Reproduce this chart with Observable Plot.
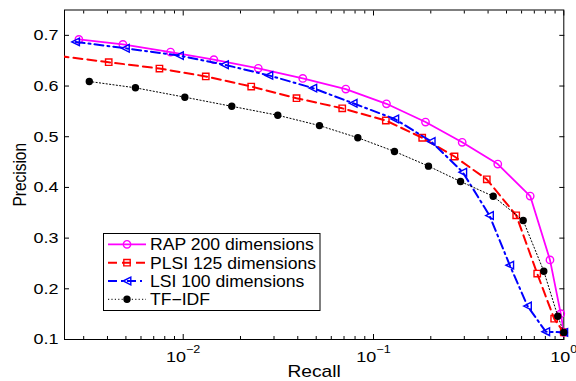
<!DOCTYPE html>
<html><head><meta charset="utf-8">
<script src="https://cdn.jsdelivr.net/npm/d3@7"></script>
<script src="https://cdn.jsdelivr.net/npm/@observablehq/plot@0.6"></script>
<style>
html,body{margin:0;padding:0;background:#fff;}
</style></head><body><div id="chart"></div>
<script>
// ---- data ----
const seriesNames = ["RAP 200 dimensions", "PLSI 125 dimensions", "LSI 100 dimensions", "TF\u2212IDF"];
const rapRecall = [0.00283,0.00482,0.00858,0.01449,0.0248,0.0425,0.0715,0.117,0.1876,0.2924,0.4498,0.666,0.846,0.964,1.0];
const rapPrecision = [0.692,0.682,0.667,0.652,0.635,0.615,0.594,0.565,0.529,0.489,0.446,0.383,0.257,0.151,0.114];
const plsiRecall = [0.0016,0.00406,0.0075,0.01314,0.02277,0.0394,0.0685,0.1161,0.1803,0.2665,0.3938,0.5622,0.7249,0.890,1.0];
const plsiPrecision = [0.666,0.647,0.6345,0.619,0.599,0.576,0.556,0.532,0.498,0.461,0.416,0.345,0.230,0.141,0.114];
const lsiRecall = [0.00272,0.00497,0.00956,0.01648,0.0282,0.048,0.0782,0.1294,0.201,0.2946,0.407,0.520,0.6444,0.804,1.0];
const lsiPrecision = [0.687,0.6745,0.660,0.642,0.621,0.596,0.566,0.535,0.4905,0.430,0.3446,0.2466,0.166,0.1154,0.114];
const tfidfRecall = [0.00321,0.00561,0.0102,0.018,0.0314,0.052,0.0827,0.1289,0.1945,0.2866,0.4256,0.6117,0.785,0.930,1.0];
const tfidfPrecision = [0.609,0.5965,0.578,0.560,0.5424,0.522,0.498,0.471,0.442,0.4116,0.3826,0.3347,0.2347,0.146,0.114];

const yTicks = [0.1,0.2,0.3,0.4,0.5,0.6,0.7];
const xMajor = [0.01,0.1,1];
const xMinor = [0.003,0.004,0.005,0.006,0.007,0.008,0.009,
                0.02,0.03,0.04,0.05,0.06,0.07,0.08,0.09,
                0.2,0.3,0.4,0.5,0.6,0.7,0.8,0.9];
const xLabel = "Recall";
const yLabel = "Precision";

// ---- styling ----
const triLeft = {draw(ctx, size) { const r = Math.sqrt(size / Math.PI); ctx.moveTo(-r, 0); ctx.lineTo(r, -r); ctx.lineTo(r, r); ctx.closePath(); }};
const styles = [
  {color: "#ff00ff", dash: null, width: 1.8, symbol: "circle", r: 3.7, fill: "none"},
  {color: "#ff0000", dash: "9,5", width: 2, symbol: "square", r: 3.6, fill: "none"},
  {color: "#0000ff", dash: "9,4,2,4", width: 2, symbol: triLeft, r: 3.8, fill: "none"},
  {color: "#000000", dash: "1.2,2.2", width: 1, symbol: "circle", r: 3, fill: "#000"}
];
const recalls = [rapRecall, plsiRecall, lsiRecall, tfidfRecall];
const precisions = [rapPrecision, plsiPrecision, lsiPrecision, tfidfPrecision];
const series = recalls.map((rs, k) => rs.map((r, i) => ({recall: r, precision: precisions[k][i]})));

const xDomain = [0.002378, 1];
const marks = [
  Plot.frame({stroke: "#000", strokeWidth: 1}),
  Plot.axisY(yTicks, {anchor: "left", tickSize: -5, tickPadding: 11, tickFormat: d3.format(".1f"), label: null}),
  Plot.axisY(yTicks, {anchor: "right", tickSize: -5, tickFormat: () => "", label: null}),
  Plot.axisX(xMajor, {anchor: "bottom", tickSize: -5, tickPadding: 17, tickFormat: d => "10^" + Math.round(Math.log10(d)), label: null}),
  Plot.axisX(xMinor, {anchor: "bottom", tickSize: -3, tickFormat: () => "", label: null}),
  Plot.axisX(xMajor, {anchor: "top", tickSize: -5, tickFormat: () => "", label: null}),
  Plot.axisX(xMinor, {anchor: "top", tickSize: -3, tickFormat: () => "", label: null}),
  Plot.text([xLabel], {text: d => d, frameAnchor: "bottom", dy: 37, lineAnchor: "bottom", textAnchor: "middle", fontSize: 16}),
  Plot.text([yLabel], {text: d => d, frameAnchor: "left", dx: -38.5, rotate: -90, lineAnchor: "bottom", textAnchor: "middle", fontSize: 15.5})
];
series.forEach((data, k) => {
  const s = styles[k];
  marks.push(Plot.line(data, {x: "recall", y: "precision", stroke: s.color, strokeWidth: s.width, strokeDasharray: s.dash, clip: true, curve: "linear"}));
  marks.push(Plot.dot(data, {x: "recall", y: "precision", filter: d => d.recall >= xDomain[0], symbol: s.symbol, r: s.r, stroke: s.color, strokeWidth: 1.4, fill: s.fill}));
});

const chart = Plot.plot({
  width: 576, height: 381,
  marginLeft: 64, marginRight: 12.7, marginTop: 9.5, marginBottom: 42,
  style: {fontFamily: "'Liberation Sans', Arial, sans-serif", fontSize: "15px", color: "#000", background: "#fff"},
  x: {type: "log", domain: xDomain},
  y: {domain: [0.1, 0.75]},
  marks
});
document.getElementById("chart").appendChild(chart);

// ---- post: superscripts & stretched text to mimic reference ----
const svg = d3.select(chart);
svg.selectAll("text").each(function() {
  const t = this.textContent;
  if (t.includes("^")) {
    const [b, e] = t.split("^");
    this.textContent = "";
    d3.select(this).append("tspan").text(b);
    d3.select(this).append("tspan").attr("dy", -9.5).attr("font-size", 10.5).text(e.replace("-", "\u2212"));
  }
});
function stretch(el, s) {
  const tr = el.getAttribute("transform") || "";
  const list = el.transform.baseVal;
  let ax = parseFloat(el.getAttribute("x")) || 0, ay = parseFloat(el.getAttribute("y")) || 0;
  if (list.numberOfItems) {
    const m = list.consolidate().matrix;
    const x = ax, y = ay;
    ax = m.a * x + m.c * y + m.e; ay = m.b * x + m.d * y + m.f;
  }
  el.setAttribute("transform", `translate(${ax},${ay}) scale(${s},1) translate(${-ax},${-ay}) ${tr}`);
}
svg.selectAll("text").each(function() {
  if (!this.textContent) return;
  stretch(this, this.textContent === yLabel ? 1.22 : 1.2);
});

// ---- legend ----
const lg = svg.append("g");
lg.append("rect").attr("x", 103.5).attr("y", 233.5).attr("width", 216.5).attr("height", 77)
  .attr("fill", "#fff").attr("stroke", "#000").attr("stroke-width", 1);
const rowY = [244.3, 262.7, 281, 299.3];
seriesNames.forEach((name, k) => {
  const s = styles[k], y = rowY[k];
  lg.append("line").attr("x1", 108).attr("x2", 146).attr("y1", y).attr("y2", y)
    .attr("stroke", s.color).attr("stroke-width", s.width).attr("stroke-dasharray", s.dash);
  const sym = typeof s.symbol === "string" ? (s.symbol === "square" ? d3.symbolSquare : d3.symbolCircle) : s.symbol;
  lg.append("path").attr("d", d3.symbol(sym, Math.PI * s.r * s.r)()).attr("transform", `translate(127,${y})`)
    .attr("stroke", s.color).attr("stroke-width", 1.4).attr("fill", s.fill);
  lg.append("text").attr("transform", `translate(150,${y + 5.8}) scale(1.1,1)`)
    .attr("text-anchor", "start").attr("font-size", 16).attr("fill", "#000").text(name);
});
</script></body></html>
